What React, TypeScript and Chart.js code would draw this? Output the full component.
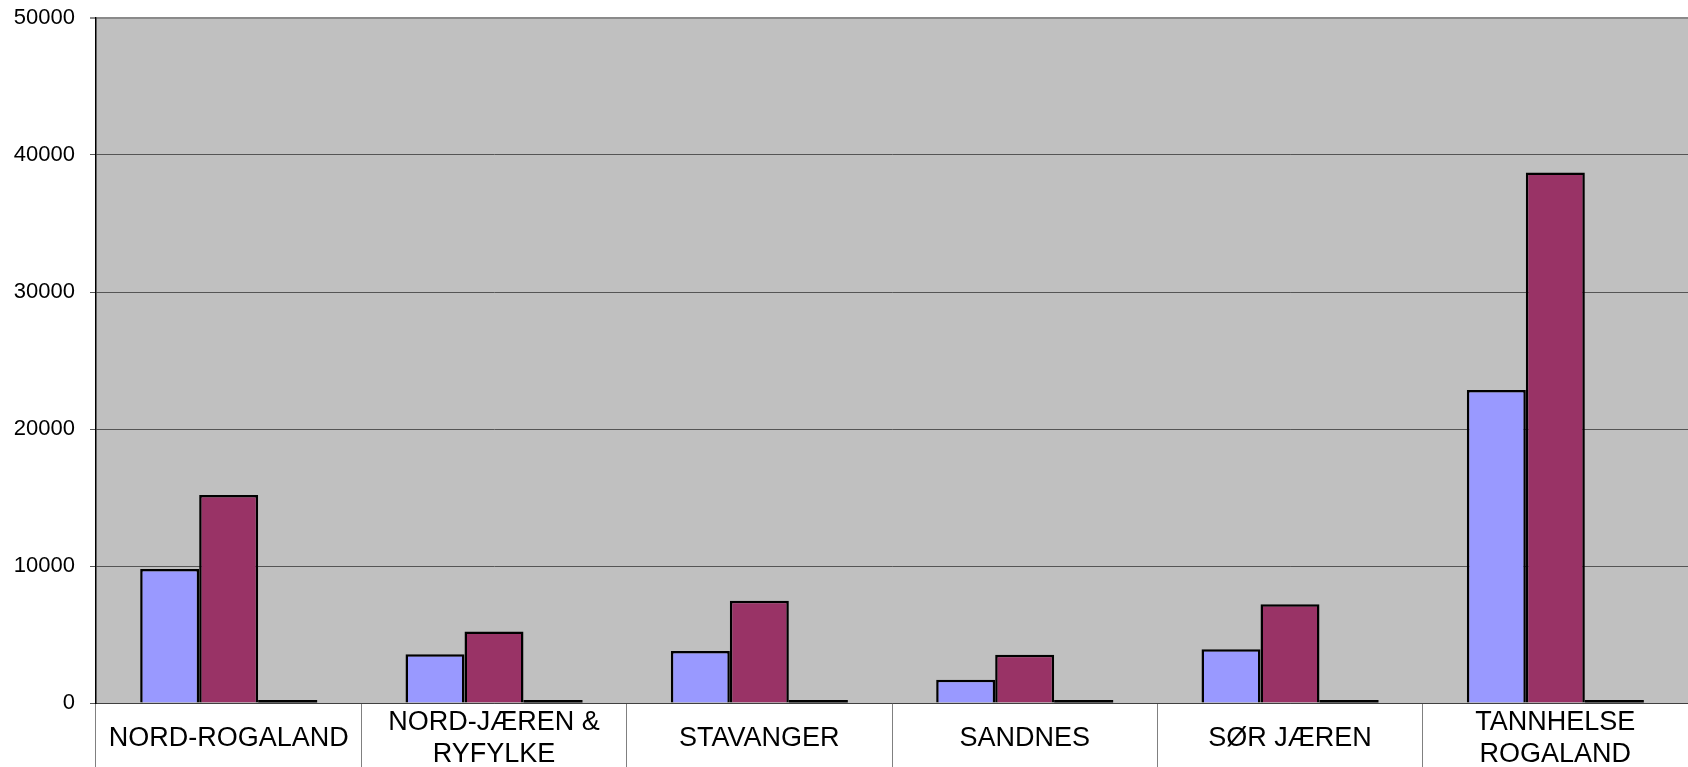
import React, { useEffect, useRef } from "react";
import { Chart, registerables } from "chart.js";

Chart.register(...registerables);

const categories: (string | string[])[] = [
  "NORD-ROGALAND",
  ["NORD-JÆREN &", "RYFYLKE"],
  "STAVANGER",
  "SANDNES",
  "SØR JÆREN",
  ["TANNHELSE", "ROGALAND"],
];
const series1 = [9780, 3560, 3800, 1690, 3920, 22850];
const series2 = [15180, 5210, 7460, 3530, 7200, 38730];
const series3 = [0, 0, 0, 0, 0, 0];
const yTicks = [0, 10000, 20000, 30000, 40000, 50000];

const W = 1688;
const H = 767;

const plotBg = {
  id: "plotBg",
  beforeDraw(chart: any) {
    const { ctx, chartArea } = chart;
    ctx.save();
    ctx.fillStyle = "#C0C0C0";
    ctx.fillRect(chartArea.left, chartArea.top, chartArea.right - chartArea.left, chartArea.bottom - chartArea.top);
    ctx.restore();
  },
};

export default function App() {
  const ref = useRef<HTMLCanvasElement>(null);
  useEffect(() => {
    if (!ref.current) return;
    const chart = new Chart(ref.current, {
      type: "bar",
      data: {
        labels: categories,
        datasets: [
          {
            data: series1,
            backgroundColor: "#9999FF",
            borderColor: "#000000",
            borderWidth: 2.5,
          },
          {
            data: series2,
            backgroundColor: "#993366",
            borderColor: "#000000",
            borderWidth: 2.5,
          },
          {
            data: series3,
            backgroundColor: "#000000",
            borderWidth: 0,
            minBarLength: 3,
          },
        ],
      },
      options: {
        responsive: false,
        animation: false,
        devicePixelRatio: 1,
        layout: { padding: { top: 18, right: 0, left: 0, bottom: 0 } },
        plugins: { legend: { display: false }, tooltip: { enabled: false } },
        datasets: { bar: { categoryPercentage: 0.667, barPercentage: 1 } },
        scales: {
          x: {
            grid: {
              display: true,
              drawOnChartArea: false,
              drawTicks: true,
              tickLength: 64,
              color: "#808080",
              lineWidth: 1,
              offset: true,
            },
            border: { display: true, color: "#404040", width: 1 },
            ticks: {
              color: "#000000",
              font: { family: "'Liberation Sans', Arial, sans-serif", size: 27, lineHeight: 1.18 },
              maxRotation: 0,
              autoSkip: false,
              crossAlign: "center",
              padding: -44,
            },
            afterFit: (scale: any) => {
              scale.height = 64;
              scale.paddingLeft = 0;
              scale.paddingRight = 0;
            },
          },
          y: {
            min: 0,
            max: 50000,
            afterBuildTicks: (scale: any) => {
              scale.ticks = yTicks.map((v) => ({ value: v }));
            },
            grid: {
              color: (c: any) => (c.tick && c.tick.value === 50000 ? "#8a8a8a" : "#555555"),
              lineWidth: (c: any) => (c.tick && c.tick.value === 50000 ? 2 : 1),
              tickLength: 6,
              drawTicks: true,
            },
            border: { display: true, color: "#000000", width: 1.5 },
            ticks: {
              color: "#000000",
              font: { family: "'Liberation Sans', Arial, sans-serif", size: 22 },
              padding: 15,
              callback: (v: any) => String(v),
            },
            afterFit: (scale: any) => {
              scale.width = 96;
              scale.paddingTop = 0;
              scale.paddingBottom = 0;
            },
          },
        },
      },
      plugins: [plotBg],
    });
    return () => chart.destroy();
  }, []);
  return (
    <div style={{ position: "fixed", left: 0, top: 0, width: W, height: H, overflow: "hidden", background: "#fff" }}>
      <canvas ref={ref} width={W} height={H} style={{ width: W, height: H, display: "block" }} />
    </div>
  );
}
